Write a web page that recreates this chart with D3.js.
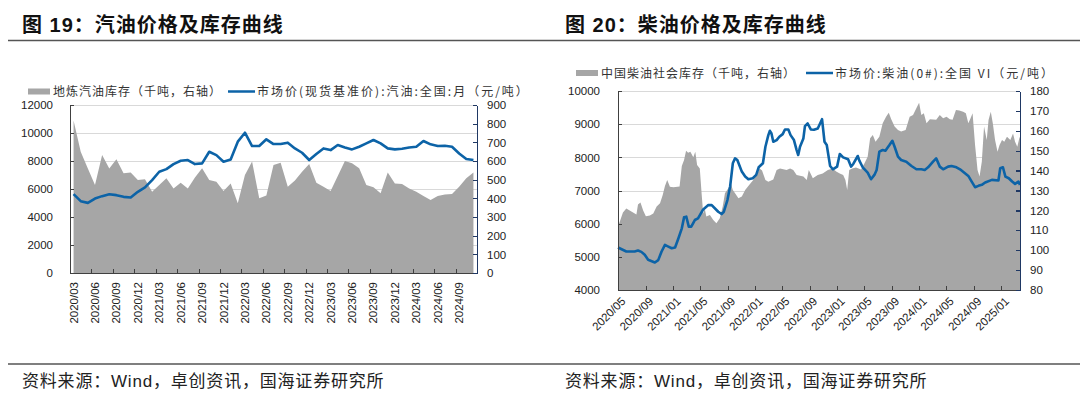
<!DOCTYPE html>
<html>
<head>
<meta charset="utf-8">
<style>
body { margin: 0; background: #fff; }
svg { display: block; font-family: "Liberation Sans", Arial, "Noto Sans CJK SC", sans-serif; }
.axis path, .axis line { shape-rendering: crispEdges; }
.tick text { fill: #222; }
</style>
</head>
<body>
<svg width="1080" height="398"></svg>
<script src="https://cdn.jsdelivr.net/npm/d3@7"></script>
<script>
// ---- figure 19: gasoline (monthly) ----
var gasMonths = [
  "2020/03","2020/04","2020/05","2020/06","2020/07","2020/08","2020/09","2020/10","2020/11","2020/12",
  "2021/01","2021/02","2021/03","2021/04","2021/05","2021/06","2021/07","2021/08","2021/09","2021/10","2021/11","2021/12",
  "2022/01","2022/02","2022/03","2022/04","2022/05","2022/06","2022/07","2022/08","2022/09","2022/10","2022/11","2022/12",
  "2023/01","2023/02","2023/03","2023/04","2023/05","2023/06","2023/07","2023/08","2023/09","2023/10","2023/11","2023/12",
  "2024/01","2024/02","2024/03","2024/04","2024/05","2024/06","2024/07","2024/08","2024/09","2024/10","2024/11"
];
// 地炼汽油库存 (千吨, right axis)
var gasStock = [817, 650, 560, 471, 632, 560, 609, 534, 538, 498, 502, 435, 471, 507, 453, 484, 453, 512, 561,
  498, 489, 439, 480, 373, 525, 597, 400, 415, 579, 591, 462, 495, 543, 584, 484, 462, 439, 520, 600, 588,
  561, 471, 459, 427, 538, 480, 477, 453, 435, 412, 391, 412, 421, 423, 462, 507, 538];
// 市场价 汽油 (元/吨, left axis)
var gasPrice = [5630, 5130, 5010, 5320, 5490, 5630, 5560, 5440, 5390, 5800, 6110, 6630, 7230, 7420, 7780, 8020,
  8070, 7780, 7830, 8660, 8420, 7950, 8110, 9380, 10020, 9070, 9070, 9550, 9210, 9210, 9310, 8900, 8590, 8070,
  8500, 8900, 8780, 9140, 8970, 8830, 9020, 9260, 9500, 9260, 8900, 8830, 8880, 8970, 9020, 9430, 9190, 9070,
  9090, 9020, 8540, 8140, 8070];
var gasLeftTicks = [0, 2000, 4000, 6000, 8000, 10000, 12000];
var gasRightTicks = [0, 100, 200, 300, 400, 500, 600, 700, 800, 900];

// ---- figure 20: diesel ----
var dieselPriceDates = ["2020-05-01","2020-06-07","2020-07-14","2020-07-29","2020-08-13","2020-08-28","2020-09-12",
  "2020-10-12","2020-10-27","2020-11-11","2020-11-26","2020-12-11","2020-12-26","2021-01-10","2021-01-25","2021-02-09",
  "2021-02-19","2021-03-01","2021-03-12","2021-03-23","2021-04-08","2021-04-22","2021-05-15","2021-06-07","2021-06-22",
  "2021-07-21","2021-08-05","2021-08-15","2021-08-31","2021-09-12","2021-09-24","2021-10-04","2021-10-14","2021-11-03",
  "2021-11-18","2021-12-02","2021-12-22","2022-01-06","2022-01-17","2022-02-05","2022-02-16","2022-03-01","2022-03-08",
  "2022-03-15","2022-03-23","2022-04-07","2022-04-19","2022-05-04","2022-05-14","2022-05-29","2022-06-08","2022-06-23",
  "2022-07-05","2022-07-12","2022-07-20","2022-08-04","2022-08-11","2022-08-23","2022-09-06","2022-09-20","2022-10-07",
  "2022-10-26","2022-11-06","2022-11-16","2022-12-01","2022-12-13","2023-01-01","2023-01-13","2023-01-28","2023-02-19",
  "2023-03-04","2023-03-14","2023-04-03","2023-04-10","2023-04-25","2023-05-17","2023-06-01","2023-06-16","2023-06-26",
  "2023-07-08","2023-07-23","2023-08-04","2023-08-22","2023-09-04","2023-09-14","2023-09-29","2023-10-13","2023-11-05",
  "2023-11-28","2023-12-20","2024-01-11","2024-01-26","2024-02-10","2024-03-03","2024-03-17","2024-04-02","2024-04-17",
  "2024-05-09","2024-05-24","2024-06-15","2024-07-01","2024-07-23","2024-08-07","2024-08-22","2024-09-06","2024-09-21",
  "2024-10-06","2024-10-21","2024-11-20","2024-12-19","2024-12-27","2025-01-08","2025-01-19","2025-02-03","2025-02-18",
  "2025-03-03","2025-03-18","2025-03-25"];
var dieselPrice = [5280, 5160, 5160, 5190, 5150, 5060, 4910, 4830, 4900, 5160, 5360, 5310, 5260, 5280, 5560, 5860,
  6190, 6210, 5910, 5910, 6110, 6160, 6430, 6560, 6560, 6360, 6290, 6360, 6710, 7120, 7820, 7970, 7920, 7570,
  7420, 7340, 7370, 7470, 7700, 7820, 8320, 8670, 8800, 8720, 8470, 8520, 8620, 8700, 8840, 8840, 8670, 8520,
  8220, 8070, 8320, 8570, 8940, 9020, 8840, 8830, 8870, 9150, 8470, 8370, 7740, 7640, 7720, 8100, 8000, 7940,
  7720, 7800, 8040, 7900, 7700, 7540, 7340, 7470, 7620, 8170, 8220, 8200, 8370, 8500, 8320, 8020, 7920, 7870,
  7740, 7640, 7640, 7620, 7700, 7870, 7970, 7720, 7640, 7720, 7740, 7700, 7640, 7520, 7440, 7270, 7100, 7140,
  7170, 7240, 7320, 7300, 7670, 7700, 7420, 7370, 7270, 7200, 7270, 7170];
var dieselStockDates = ["2020-05-01","2020-05-08","2020-05-23","2020-06-07","2020-06-22","2020-07-07","2020-07-22",
  "2020-07-29","2020-08-09","2020-08-21","2020-09-02","2020-09-20","2020-10-05","2020-10-20","2020-11-04","2020-11-16",
  "2020-11-26","2020-12-06","2020-12-18","2021-01-03","2021-01-30","2021-02-09","2021-02-19","2021-02-28","2021-03-09",
  "2021-03-19","2021-04-01","2021-04-10","2021-04-18","2021-04-30","2021-05-08","2021-05-15","2021-05-22","2021-05-29",
  "2021-06-14","2021-06-29","2021-07-13","2021-07-28","2021-08-10","2021-08-20","2021-09-04","2021-09-15","2021-09-24",
  "2021-10-04","2021-10-19","2021-11-03","2021-11-18","2021-12-02","2021-12-24","2022-01-09","2022-01-21","2022-02-01",
  "2022-02-16","2022-03-01","2022-03-23","2022-04-07","2022-04-22","2022-05-21","2022-06-06","2022-06-20","2022-07-05",
  "2022-08-04","2022-08-19","2022-08-28","2022-09-06","2022-09-15","2022-10-07","2022-10-29","2022-11-21","2022-12-13",
  "2022-12-28","2023-01-13","2023-01-28","2023-02-07","2023-02-15","2023-02-24","2023-03-09","2023-03-26","2023-04-18",
  "2023-05-03","2023-05-17","2023-05-28","2023-06-09","2023-06-21","2023-07-08","2023-07-23","2023-08-07","2023-08-19",
  "2023-08-30","2023-09-14","2023-09-29","2023-10-13","2023-11-02","2023-11-20","2023-12-05","2023-12-23","2024-01-01",
  "2024-01-11","2024-01-22","2024-02-03","2024-02-18","2024-03-17","2024-04-02","2024-04-17","2024-05-02","2024-05-17",
  "2024-05-29","2024-06-13","2024-06-28","2024-07-15","2024-07-27","2024-08-07","2024-08-17","2024-08-26","2024-09-06",
  "2024-09-17","2024-09-26","2024-10-06","2024-10-16","2024-10-28","2024-11-05","2024-11-15","2024-11-24","2024-12-04",
  "2024-12-15","2024-12-24","2025-01-04","2025-01-14","2025-01-26","2025-02-10","2025-02-22","2025-03-03","2025-03-13",
  "2025-03-22","2025-03-25"];
var dieselStock = [112, 114, 119, 121, 120, 119, 118, 123, 124, 120, 117, 117.5, 118.5, 122, 123.6, 127.7, 132.3,
  135.3, 131.9, 131.6, 132, 142.3, 145.3, 150, 149, 149.5, 146.7, 149.5, 142.8, 141.1, 128.6, 118.5, 121, 116.9,
  117.7, 115.2, 113.5, 116, 121.9, 128.6, 131.1, 133.6, 130.3, 128.6, 126.1, 127, 130.3, 132.3, 135.3, 137.8,
  141.1, 140, 135.3, 134.4, 135.5, 140.3, 141.1, 140.3, 141.1, 140.3, 137.8, 137, 135.3, 140.3, 138.3, 136.1,
  137.8, 138.6, 140.3, 141.1, 139.5, 138.6, 137.8, 135.3, 130.3, 140.3, 141.1, 141.6, 140.6, 143.7, 147, 156.2,
  157.9, 154.5, 157, 163.8, 167.1, 169.1, 165.8, 162.1, 160.4, 159.6, 160.4, 167.1, 167.9, 172.1, 174.1, 167.9,
  168.8, 163.8, 165.8, 165.5, 167.9, 166.3, 167.1, 165.8, 165.5, 170.5, 170.2, 169.6, 168.8, 163.8, 166.3, 168.8,
  152.9, 140.3, 137, 144.5, 162.1, 155.4, 165.4, 169.6, 163.8, 155.4, 149.5, 152.9, 155.4, 154.5, 157, 155.4,
  158.7, 154.5, 152, 156.2, 157];
var dieselLeftTicks = [4000, 5000, 6000, 7000, 8000, 9000, 10000];
var dieselRightTicks = [80, 90, 100, 110, 120, 130, 140, 150, 160, 170, 180];

var GRAY = "#a6a6a6", BLUE = "#0c63a7", NAVY = "#1f3864", AXIS = "#404040", GRID = "#d9d9d9";
var svg = d3.select("svg");
var parse = d3.timeParse("%Y-%m-%d");
var plain = d3.format("d");

// page furniture
svg.append("line").attr("x1", 8).attr("x2", 1080).attr("y1", 40.5).attr("y2", 40.5)
  .attr("stroke", "#555").attr("stroke-width", 1.5);
svg.append("line").attr("x1", 8).attr("x2", 1080).attr("y1", 364).attr("y2", 364)
  .attr("stroke", "#555").attr("stroke-width", 1.5);
[[22, "图 19：汽油价格及库存曲线"], [565, "图 20：柴油价格及库存曲线"]].forEach(function (t) {
  svg.append("text").attr("x", t[0]).attr("y", 32).attr("font-size", 20).attr("font-weight", "bold")
    .attr("letter-spacing", 1).attr("fill", "#111").text(t[1]);
  svg.append("text").attr("x", t[0]).attr("y", 387).attr("font-size", 17).attr("letter-spacing", 0.8)
    .attr("fill", "#222").text("资料来源：Wind，卓创资讯，国海证券研究所");
});

function legend(x, y, items) {
  var g = svg.append("g").attr("transform", "translate(" + x + "," + y + ")");
  var cx = 0;
  items.forEach(function (it) {
    if (it.type === "area") {
      g.append("rect").attr("x", cx).attr("y", -3).attr("width", 22).attr("height", 6).attr("fill", GRAY);
      cx += 25;
    } else {
      g.append("line").attr("x1", cx).attr("x2", cx + 27).attr("y1", 0).attr("y2", 0)
        .attr("stroke", BLUE).attr("stroke-width", 2.5);
      cx += 29;
    }
    var t = g.append("text").attr("x", cx).attr("y", 4.5).attr("font-size", 12).attr("letter-spacing", it.ls)
      .attr("fill", "#333").attr("font-family", "Noto Sans CJK SC, sans-serif").text(it.label);
    cx += t.node().getComputedTextLength() + it.gap;
  });
}

// ---------- left chart ----------
(function () {
  var L = 70, R = 477, T = 105, B = 273;
  var x = d3.scaleBand().domain(gasMonths).range([L, R]);
  var bw = x.bandwidth();
  var yL = d3.scaleLinear().domain([0, 12000]).range([B, T]);
  var yR = d3.scaleLinear().domain([0, 900]).range([B, T]);
  var rows = gasMonths.map(function (m, i) { return { m: m, s: gasStock[i], p: gasPrice[i] }; });

  svg.append("g").selectAll("line").data(gasLeftTicks.slice(1)).join("line")
    .attr("x1", L).attr("x2", R).attr("y1", function (d) { return Math.round(yL(d)) + 0.5; })
    .attr("y2", function (d) { return Math.round(yL(d)) + 0.5; }).attr("stroke", GRID);

  svg.append("path").datum(rows).attr("fill", GRAY)
    .attr("d", d3.area().x(function (d) { return x(d.m) + bw / 2; }).y0(B).y1(function (d) { return yR(d.s); }));

  // category tick marks every 3 months
  var tickCats = gasMonths.filter(function (d, i) { return i % 3 === 0; });
  svg.append("g").selectAll("line").data(tickCats.map(function (d) { return x(d); }).concat([R])).join("line")
    .attr("x1", function (d) { return Math.round(d) + 0.5; }).attr("x2", function (d) { return Math.round(d) + 0.5; })
    .attr("y1", B - 4).attr("y2", B).attr("stroke", AXIS);

  svg.append("path").datum(rows).attr("fill", "none").attr("stroke", BLUE).attr("stroke-width", 2.6)
    .attr("stroke-linejoin", "round")
    .attr("d", d3.line().x(function (d) { return x(d.m) + bw / 2; }).y(function (d) { return yL(d.p); }));

  var ax = svg.append("g").attr("class", "axis").attr("transform", "translate(0," + B + ")")
    .call(d3.axisBottom(x).tickValues(tickCats).tickSize(0).tickPadding(0));
  ax.select(".domain").attr("stroke", AXIS).attr("stroke-width", 1.3);
  ax.selectAll("text").attr("font-size", 11.5).attr("text-anchor", "end")
    .attr("transform", "rotate(-90)").attr("x", -9).attr("y", 0).attr("dy", "0.35em");

  var al = svg.append("g").attr("class", "axis").attr("transform", "translate(" + L + ",0)")
    .call(d3.axisLeft(yL).tickValues(gasLeftTicks).tickFormat(plain).tickSizeInner(-4).tickSizeOuter(0).tickPadding(17));
  al.selectAll("line, .domain").attr("stroke", AXIS);
  al.selectAll("text").attr("font-size", 11.5);

  var ar = svg.append("g").attr("class", "axis").attr("transform", "translate(" + R + ",0)")
    .call(d3.axisRight(yR).tickValues(gasRightTicks).tickFormat(plain).tickSizeInner(-4).tickSizeOuter(0).tickPadding(10));
  ar.selectAll("line, .domain").attr("stroke", NAVY).attr("stroke-width", 1.3);
  ar.selectAll("text").attr("font-size", 11.5);

  legend(28, 91.5, [{ type: "area", label: "地炼汽油库存（千吨，右轴）", ls: 1, gap: 6 },
                    { type: "line", label: "市场价(现货基准价):汽油:全国:月（元/吨）", ls: 2, gap: 0 }]);
})();

// ---------- right chart ----------
(function () {
  var L = 618, R = 1020, T = 91, B = 290;
  var x = d3.scaleTime().domain([parse("2020-05-01"), parse("2025-03-25")]).range([L, R]);
  var yL = d3.scaleLinear().domain([4000, 10000]).range([B, T]);
  var yR = d3.scaleLinear().domain([80, 180]).range([B, T]);
  var price = dieselPriceDates.map(function (d, i) { return { t: parse(d), v: dieselPrice[i] }; });
  var stock = dieselStockDates.map(function (d, i) { return { t: parse(d), v: dieselStock[i] }; });

  svg.append("g").selectAll("line").data(dieselLeftTicks.slice(1)).join("line")
    .attr("x1", L).attr("x2", R).attr("y1", function (d) { return Math.round(yL(d)) + 0.5; })
    .attr("y2", function (d) { return Math.round(yL(d)) + 0.5; }).attr("stroke", GRID);

  svg.append("path").datum(stock).attr("fill", GRAY)
    .attr("d", d3.area().x(function (d) { return x(d.t); }).y0(B).y1(function (d) { return yR(d.v); }));

  svg.append("path").datum(price).attr("fill", "none").attr("stroke", BLUE).attr("stroke-width", 2.6)
    .attr("stroke-linejoin", "round")
    .attr("d", d3.line().x(function (d) { return x(d.t); }).y(function (d) { return yL(d.v); }));

  var fmt = d3.timeFormat("%Y/%m");
  var ax = svg.append("g").attr("class", "axis").attr("transform", "translate(0," + B + ")")
    .call(d3.axisBottom(x).ticks(d3.timeMonth.every(4)).tickFormat(fmt).tickSizeInner(-4).tickSizeOuter(0).tickPadding(0));
  ax.selectAll("line, .domain").attr("stroke", AXIS);
  ax.select(".domain").attr("stroke-width", 1.3);
  ax.selectAll("text").attr("font-size", 11.5).attr("text-anchor", "end")
    .attr("transform", "translate(5,9) rotate(-45)").attr("y", 0).attr("dy", "0.35em");

  var al = svg.append("g").attr("class", "axis").attr("transform", "translate(" + L + ",0)")
    .call(d3.axisLeft(yL).tickValues(dieselLeftTicks).tickFormat(plain).tickSizeInner(-4).tickSizeOuter(0).tickPadding(18));
  al.selectAll("line, .domain").attr("stroke", AXIS);
  al.selectAll("text").attr("font-size", 11.5);

  var ar = svg.append("g").attr("class", "axis").attr("transform", "translate(" + R + ",0)")
    .call(d3.axisRight(yR).tickValues(dieselRightTicks).tickFormat(plain).tickSizeInner(-4).tickSizeOuter(0).tickPadding(10));
  ar.selectAll("line, .domain").attr("stroke", NAVY).attr("stroke-width", 1.3);
  ar.selectAll("text").attr("font-size", 11.5);

  legend(576, 73, [{ type: "area", label: "中国柴油社会库存（千吨，右轴）", ls: 1, gap: 10 },
                   { type: "line", label: "市场价:柴油(0#):全国 VI（元/吨）", ls: 2, gap: 0 }]);
})();
</script>
</body>
</html>
